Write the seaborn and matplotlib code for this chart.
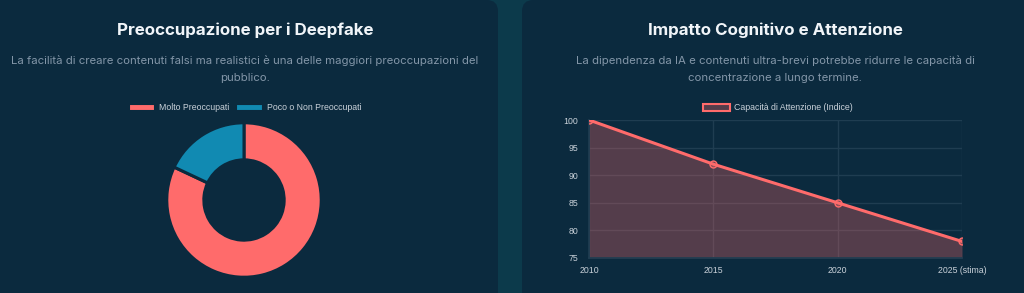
import matplotlib
matplotlib.use("Agg")
import matplotlib.pyplot as plt
import seaborn as sns
import pandas as pd
from matplotlib.patches import FancyBboxPatch, Patch

# ---- data ----
donut_labels = ["Molto Preoccupati", "Poco o Non Preoccupati"]
donut_values = [82, 18]
years = ["2010", "2015", "2020", "2025 (stima)"]
attention = [100, 92, 85, 78]
line_label = "Capacità di Attenzione (Indice)"

# ---- style ----
sns.set_theme(style="dark")
plt.rcParams['font.family'] = ['Liberation Sans', 'DejaVu Sans']

GAP = "#0c3a4b"
PANEL = "#0b2a3e"
RED = "#ff6b6b"
BLUE = "#118ab2"
TITLE_C = "#f1f5f9"
SUB_C = "#8396a8"
TICK_C = "#c9d1d9"
GRID_C = "#1f3d51"

W, H = 1024, 293
fig = plt.figure(figsize=(W / 100, H / 100), dpi=100)
fig.patch.set_facecolor(GAP)

def px(x0, y0, x1, y1):
    return [x0 / W, 1 - y1 / H, (x1 - x0) / W, (y1 - y0) / H]

# panels
for (x0, x1) in [(-20, 498), (522, 1044)]:
    p = FancyBboxPatch((x0 / W, -0.2), (x1 - x0) / W, 1.2,
                       boxstyle="round,pad=0,rounding_size=0.011",
                       transform=fig.transFigure, facecolor=PANEL,
                       edgecolor="none", mutation_aspect=W / H, zorder=-10)
    fig.patches.append(p)

FT = ["Inter", "DejaVu Sans"]
# titles
fig.text(245 / W, 1 - 30 / H, "Preoccupazione per i Deepfake", ha="center", va="center",
         fontsize=12.2, fontweight="bold", color=TITLE_C, family=FT)
fig.text(245 / W, 1 - 61 / H,
         "La facilità di creare contenuti falsi ma realistici è una delle maggiori preoccupazioni del",
         ha="center", va="center", fontsize=8.2, color=SUB_C, family=FT)
fig.text(245 / W, 1 - 78 / H, "pubblico.", ha="center", va="center", fontsize=8.2,
         color=SUB_C, family=FT)

fig.text(775 / W, 1 - 30 / H, "Impatto Cognitivo e Attenzione", ha="center", va="center",
         fontsize=12.2, fontweight="bold", color=TITLE_C, family=FT)
fig.text(775 / W, 1 - 61 / H,
         "La dipendenza da IA e contenuti ultra-brevi potrebbe ridurre le capacità di",
         ha="center", va="center", fontsize=8.2, color=SUB_C, family=FT)
fig.text(775 / W, 1 - 78 / H, "concentrazione a lungo termine.", ha="center", va="center",
         fontsize=8.2, color=SUB_C, family=FT)

# ---- donut ----
axd = fig.add_axes(px(166, 122, 322, 278))
axd.set_facecolor("none")
wedges, _ = axd.pie(donut_values, colors=[RED, BLUE], startangle=90, counterclock=False,
                    radius=1.0, wedgeprops=dict(width=0.48, edgecolor=PANEL, linewidth=2.2))
axd.set_xlim(-1.01, 1.01)
axd.set_ylim(-1.01, 1.01)
axd.set_aspect("equal")
axd.axis("off")

handles = [Patch(facecolor=RED, edgecolor=PANEL, linewidth=1.5, label=donut_labels[0]),
           Patch(facecolor=BLUE, edgecolor=PANEL, linewidth=1.5, label=donut_labels[1])]
fig.legend(handles=handles, loc="center", bbox_to_anchor=(245 / W, 1 - 108 / H), ncol=2,
           frameon=False, fontsize=6.3, labelcolor=TICK_C, handlelength=3.0,
           handleheight=0.8, handletextpad=0.5, columnspacing=0.8)

# ---- line chart ----
axl = fig.add_axes(px(589, 120, 962, 258))
axl.set_facecolor("none")
df = pd.DataFrame({"x": range(len(years)), "y": attention})
axl.fill_between(df["x"], df["y"], 75, color=RED, alpha=0.3, linewidth=0, zorder=2)
sns.lineplot(data=df, x="x", y="y", ax=axl, color=RED, linewidth=2.2, zorder=3,
             marker="o", markersize=5, markerfacecolor=(1, 0.42, 0.42, 0.35),
             markeredgecolor=RED, markeredgewidth=1.0)
axl.set_xlim(0, len(years) - 1)
axl.set_ylim(75, 100)
axl.set_yticks([75, 80, 85, 90, 95, 100])
axl.set_xticks(range(len(years)))
axl.set_xticklabels(years)
axl.set_xlabel("")
axl.set_ylabel("")
axl.grid(True, color=GRID_C, linewidth=1.0, zorder=0)
axl.set_axisbelow(True)
for s in axl.spines.values():
    s.set_visible(False)
axl.tick_params(axis="both", colors=TICK_C, labelsize=6.3, length=0, pad=6)
axl.tick_params(axis="y", pad=8)
for sp in ["left", "bottom"]:
    axl.spines[sp].set_visible(True)
    axl.spines[sp].set_color(GRID_C)

lh = [Patch(facecolor=(1, 0.42, 0.42, 0.3), edgecolor=RED, linewidth=1.5, label=line_label)]
fig.legend(handles=lh, loc="center", bbox_to_anchor=(778 / W, 1 - 108 / H), ncol=1,
           frameon=False, fontsize=6.3, labelcolor=TICK_C, handlelength=3.0,
           handleheight=0.8, handletextpad=0.5)

fig.savefig("out.png", dpi=100, facecolor=fig.get_facecolor())
